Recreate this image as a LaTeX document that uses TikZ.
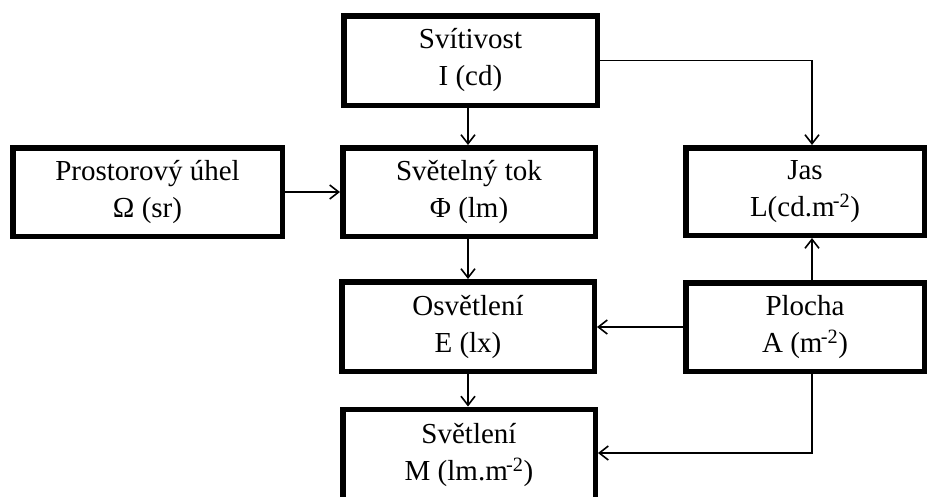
\documentclass[tikz,border=0pt]{standalone}
\usepackage{fontspec}
\setmainfont{Liberation Serif}
\usetikzlibrary{arrows.meta,calc}
\newcommand{\msq}{m\textsuperscript{\kern-0.08em-2}}
\tikzset{
  qbox/.style={draw=black, line width=5.5pt, fill=white, rectangle, align=center,
    font=\fontsize{29}{37}\selectfont, inner sep=0pt},
  link/.style={draw=black, line width=1.6pt, -{Straight Barb[length=9pt,width=14pt,line width=1.6pt]}}
}
\begin{document}
\begin{tikzpicture}[x=1pt,y=-1pt]
  \useasboundingbox (0,0) rectangle (930,496);
  \clip (0,0) rectangle (930,496);
  \fill[white] (0,0) rectangle (930,496);

  % quantity boxes
  \node[qbox, minimum width=253.5pt, minimum height=89.5pt] (svit) at (470.5,60.5) {Svítivost\\I (cd)};
  \node[qbox, minimum width=252.5pt, minimum height=88.5pt] (tok)  at (469,192) {Světelný tok\\Φ (lm)};
  \node[qbox, minimum width=269.5pt, minimum height=88.5pt] (uhel) at (147.5,192) {Prostorový úhel\\Ω (sr)};
  \node[qbox, minimum width=238.5pt, minimum height=87.5pt] (jas)  at (805,191.5) {Jas\\L(cd.\msq)};
  \node[qbox, minimum width=252.5pt, minimum height=89.5pt] (osv)  at (468,326.5) {Osvětlení\\E (lx)};
  \node[qbox, minimum width=238.5pt, minimum height=88.5pt] (plo)  at (805,327) {Plocha\\A (\msq)};
  \node[qbox, minimum width=252.5pt, minimum height=91.5pt] (svl)  at (469,455) {Světlení\\M (lm.\msq)};

  % column of the right-hand connectors
  \coordinate (col) at (812,0);

  % connectors
  \draw[link] (svit.south -| osv.north) -- (tok.north -| osv.north);
  \draw[link] (svit.east) -| (col |- jas.north);
  \draw[link] (uhel.east) -- (uhel.east -| tok.west);
  \draw[link] (tok.south -| osv.north) -- (osv.north);
  \draw[link] (osv.south) -- (osv.south |- svl.north);
  \draw[link] (col |- plo.north) -- (col |- jas.south);
  \draw[link] (plo.west) -- (plo.west -| osv.east);
  \draw[link] (col |- plo.south) |- ($(svl.east)+(0,-2)$);
\end{tikzpicture}
\end{document}
